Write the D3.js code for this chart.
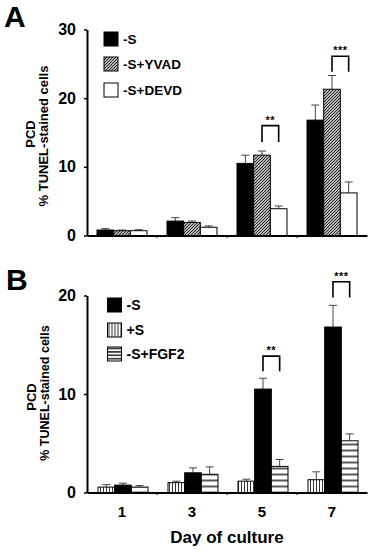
<!DOCTYPE html>
<html>
<head>
<meta charset="utf-8">
<script src="https://cdn.jsdelivr.net/npm/d3@7"></script>
<style>
  body { margin: 0; background: #fff; }
  text { font-family: "Liberation Sans", Arial, Helvetica, sans-serif; font-weight: bold; fill: #000; }
</style>
</head>
<body>
<div id="chart"></div>
<script>
// categories
const days = ["1", "3", "5", "7"];

// panel A
const seriesA = ["-S", "-S+YVAD", "-S+DEVD"];
const aMinusS = [0.8, 2.1, 10.5, 16.8];
const aMinusSErr = [0.2, 0.5, 1.2, 2.2];
const aYVAD = [0.7, 1.9, 11.7, 21.3];
const aYVADErr = [0.1, 0.2, 0.6, 2.0];
const aDEVD = [0.7, 1.2, 3.9, 6.2];
const aDEVDErr = [0.15, 0.2, 0.4, 1.6];
const ticksA = [0, 10, 20, 30];
const sigDaysA = ["5", "7"];
const sigLabelsA = ["**", "***"];
const sigTopA = [16.0, 26.1];
const sigLegA = [13.6, 23.85];

// panel B (bar order differs from legend order)
const seriesB = ["-S", "+S", "-S+FGF2"];
const barOrderB = ["+S", "-S", "-S+FGF2"];
const bPlusS = [0.55, 1.0, 1.15, 1.3];
const bPlusSErr = [0.25, 0.15, 0.2, 0.8];
const bMinusS = [0.75, 2.0, 10.5, 16.8];
const bMinusSErr = [0.2, 0.5, 1.1, 2.2];
const bFGF2 = [0.55, 1.85, 2.65, 5.25];
const bFGF2Err = [0.15, 0.75, 0.7, 0.7];
const ticksB = [0, 10, 20];
const sigDaysB = ["5", "7"];
const sigLabelsB = ["**", "***"];
const sigTopB = [13.85, 21.4];
const sigLegB = [12.3, 19.8];

const svg = d3.select("#chart").append("svg")
    .attr("width", 372)
    .attr("height", 550);

// fill patterns
const defs = svg.append("defs");
const diag = defs.append("pattern").attr("id", "diag")
    .attr("patternUnits", "userSpaceOnUse").attr("width", 3).attr("height", 3);
diag.append("rect").attr("width", 3).attr("height", 3).attr("fill", "#fff");
diag.append("path").attr("d", "M-1,1 l2,-2 M0,3 l3,-3 M2,4 l2,-2")
    .attr("stroke", "#1a1a1a").attr("stroke-width", 1.2);

const vlines = defs.append("pattern").attr("id", "vlines")
    .attr("patternUnits", "userSpaceOnUse").attr("width", 3).attr("height", 3);
vlines.append("rect").attr("width", 3).attr("height", 3).attr("fill", "#fff");
vlines.append("line").attr("x1", 1.5).attr("x2", 1.5).attr("y1", 0).attr("y2", 3)
    .attr("stroke", "#333").attr("stroke-width", 1);

function hPattern(id, step, y0) {
    const p = defs.append("pattern").attr("id", id)
        .attr("patternUnits", "userSpaceOnUse")
        .attr("width", 10).attr("height", step).attr("y", y0);
    p.append("rect").attr("width", 10).attr("height", step).attr("fill", "#fff");
    p.append("line").attr("x1", 0).attr("x2", 10).attr("y1", step / 2).attr("y2", step / 2)
        .attr("stroke", "#111").attr("stroke-width", 1.4);
}

const fillsA = { "-S": "#000", "-S+YVAD": "url(#diag)", "-S+DEVD": "#fff" };
const fillsB = { "-S": "#000", "+S": "url(#vlines)", "-S+FGF2": "url(#hlines)" };
const legendFillsB = { "-S": "#000", "+S": "url(#vlines)", "-S+FGF2": "url(#hlinesSmall)" };

const x = d3.scaleBand().domain(days).range([87, 367]).padding(0);

function drawPanel(cfg) {
    const y = d3.scaleLinear().domain([0, cfg.max]).range([cfg.bottom, cfg.top]);
    const sub = d3.scaleBand().domain(cfg.order).range(cfg.subRange).padding(0);
    const g = svg.append("g");

    // bars
    const rows = [];
    days.forEach((d, i) => {
        cfg.order.forEach(k => {
            rows.push({ day: d, key: k, value: cfg.values[k][i], err: cfg.errs[k][i] });
        });
    });

    // error bars first, bars on top
    const eb = g.selectAll(".err").data(rows).enter().append("g");
    eb.append("line")
        .attr("x1", d => x(d.day) + sub(d.key) + sub.bandwidth() / 2)
        .attr("x2", d => x(d.day) + sub(d.key) + sub.bandwidth() / 2)
        .attr("y1", d => y(d.value))
        .attr("y2", d => y(d.value + d.err))
        .attr("stroke", "#444").attr("stroke-width", 1);
    eb.append("line")
        .attr("x1", d => x(d.day) + sub(d.key) + sub.bandwidth() / 2 - 4)
        .attr("x2", d => x(d.day) + sub(d.key) + sub.bandwidth() / 2 + 4)
        .attr("y1", d => y(d.value + d.err))
        .attr("y2", d => y(d.value + d.err))
        .attr("stroke", "#444").attr("stroke-width", 1);

    g.selectAll(".bar").data(rows).enter().append("rect")
        .attr("x", d => x(d.day) + sub(d.key))
        .attr("y", d => y(d.value))
        .attr("width", sub.bandwidth())
        .attr("height", d => y(0) - y(d.value))
        .attr("fill", d => cfg.fills[d.key])
        .attr("stroke", "#000")
        .attr("stroke-width", 1);

    // significance brackets
    cfg.sigDays.forEach((d, i) => {
        const x1 = x(d) + sub(cfg.sigPair[0]) + sub.bandwidth() / 2;
        const x2 = x(d) + sub(cfg.sigPair[1]) + sub.bandwidth() / 2;
        g.append("path")
            .attr("d", `M${x1},${y(cfg.sigLeg[i])}V${y(cfg.sigTop[i])}H${x2}V${y(cfg.sigLeg[i])}`)
            .attr("fill", "none").attr("stroke", "#000").attr("stroke-width", 1.6);
        g.append("text")
            .attr("x", (x1 + x2) / 2)
            .attr("y", y(cfg.sigTop[i]) - 2)
            .attr("text-anchor", "middle")
            .attr("font-size", 11)
            .attr("letter-spacing", "0.5px")
            .text(cfg.sigLabels[i]);
    });

    // y axis
    const yAxis = g.append("g")
        .attr("transform", "translate(87,0)")
        .call(d3.axisLeft(y).tickValues(cfg.ticks).tickSize(3).tickSizeOuter(0).tickPadding(8));
    yAxis.select(".domain").attr("stroke-width", 2);
    yAxis.selectAll(".tick line").attr("stroke-width", 1.5);
    yAxis.selectAll(".tick text")
        .attr("font-size", 16)
        .attr("font-family", "Liberation Sans, Arial, sans-serif")
        .attr("font-weight", "bold");

    // x axis
    const xAxis = g.append("g")
        .attr("transform", `translate(0,${y(0)})`)
        .call(d3.axisBottom(x).tickSize(0).tickSizeOuter(0).tickPadding(14)
            .tickFormat(cfg.xLabels ? d => d : () => ""));
    xAxis.select(".domain").attr("stroke-width", 2);
    xAxis.selectAll(".tick text")
        .attr("font-size", 15)
        .attr("font-family", "Liberation Sans, Arial, sans-serif")
        .attr("font-weight", "bold");
    g.selectAll(".xsep").data(days.slice(1)).enter().append("line")
        .attr("x1", d => x(d)).attr("x2", d => x(d))
        .attr("y1", y(0)).attr("y2", y(0) + 2.5)
        .attr("stroke", "#000").attr("stroke-width", 1);

    // axis titles
    g.append("text")
        .attr("transform", `translate(${cfg.titleX[0]},${cfg.titleY[0]}) rotate(-90)`)
        .attr("text-anchor", "middle")
        .attr("font-size", 13)
        .text("PCD");
    g.append("text")
        .attr("transform", `translate(${cfg.titleX[1]},${cfg.titleY[1]}) rotate(-90)`)
        .attr("text-anchor", "middle")
        .attr("font-size", cfg.titleSize)
        .text("% TUNEL-stained cells");

    // panel letter
    g.append("text")
        .attr("x", cfg.letterPos[0]).attr("y", cfg.letterPos[1])
        .attr("font-size", 30)
        .text(cfg.letter);

    // legend
    const lg = g.append("g").attr("transform", `translate(${cfg.legendPos[0]},0)`);
    cfg.legendKeys.forEach((k, i) => {
        const cy = cfg.legendRows[i];
        lg.append("rect")
            .attr("x", 0).attr("y", cy - 7)
            .attr("width", 14).attr("height", 14)
            .attr("fill", cfg.legendFills[k])
            .attr("stroke", "#000").attr("stroke-width", 1);
        lg.append("text")
            .attr("x", 19).attr("y", cy + 5)
            .attr("font-size", cfg.legendSize)
            .text(k);
    });
    return y;
}

drawPanel({
    max: 30, top: 29.5, bottom: 235.5,
    order: seriesA, subRange: [10, 60],
    values: { "-S": aMinusS, "-S+YVAD": aYVAD, "-S+DEVD": aDEVD },
    errs: { "-S": aMinusSErr, "-S+YVAD": aYVADErr, "-S+DEVD": aDEVDErr },
    fills: fillsA, legendFills: fillsA,
    ticks: ticksA,
    sigDays: sigDaysA, sigLabels: sigLabelsA, sigTop: sigTopA, sigLeg: sigLegA,
    sigPair: ["-S+YVAD", "-S+DEVD"],
    xLabels: false,
    titleX: [35, 48], titleY: [134, 136], titleSize: 13,
    letter: "A", letterPos: [4, 27],
    legendPos: [104], legendKeys: seriesA, legendRows: [39, 64, 90], legendSize: 13.5
});

hPattern("hlines", 6, 492.5 - 3);
hPattern("hlinesSmall", 3.4, 0);

drawPanel({
    max: 20, top: 295.5, bottom: 492.5,
    order: barOrderB, subRange: [11, 61],
    values: { "+S": bPlusS, "-S": bMinusS, "-S+FGF2": bFGF2 },
    errs: { "+S": bPlusSErr, "-S": bMinusSErr, "-S+FGF2": bFGF2Err },
    fills: fillsB, legendFills: legendFillsB,
    ticks: ticksB,
    sigDays: sigDaysB, sigLabels: sigLabelsB, sigTop: sigTopB, sigLeg: sigLegB,
    sigPair: ["-S", "-S+FGF2"],
    xLabels: true,
    titleX: [36, 49], titleY: [397, 393], titleSize: 12.5,
    letter: "B", letterPos: [6, 290],
    legendPos: [107.5], legendKeys: seriesB, legendRows: [305, 330, 354], legendSize: 14
});

svg.append("text")
    .attr("x", 227).attr("y", 543)
    .attr("text-anchor", "middle")
    .attr("font-size", 17)
    .text("Day of culture");
</script>
</body>
</html>
